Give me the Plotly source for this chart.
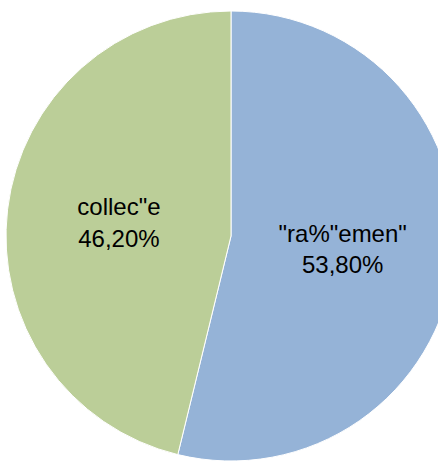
import plotly.graph_objects as go

labels = ['"ra%"emen"', 'collec"e']
values = [53.8, 46.2]
colors = ["#95B3D7", "#BBCE98"]

W, H = 456, 466

fig = go.Figure(go.Pie(
    labels=labels,
    values=values,
    sort=False,
    direction="clockwise",
    rotation=0,
    marker=dict(colors=colors, line=dict(color="white", width=1)),
    texttemplate="%{label}<br>%{percent:.2%}",
    textposition="inside",
    insidetextorientation="horizontal",
    textfont=dict(family="Liberation Sans Narrow, Arial Narrow, Liberation Sans, Arial", size=24, color="black"),
    domain=dict(x=[6 / W, 1], y=[5 / H, 455 / H]),
    hoverinfo="skip",
))

fig.update_layout(
    width=W, height=H,
    margin=dict(l=0, r=0, t=0, b=0),
    showlegend=False,
    separators=",.",
    paper_bgcolor="white",
    plot_bgcolor="white",
)

fig.write_html(
    "out.html",
    config={"displayModeBar": False},
    post_script="document.body.style.margin='0';document.body.style.overflow='hidden';document.documentElement.style.overflow='hidden';",
)
